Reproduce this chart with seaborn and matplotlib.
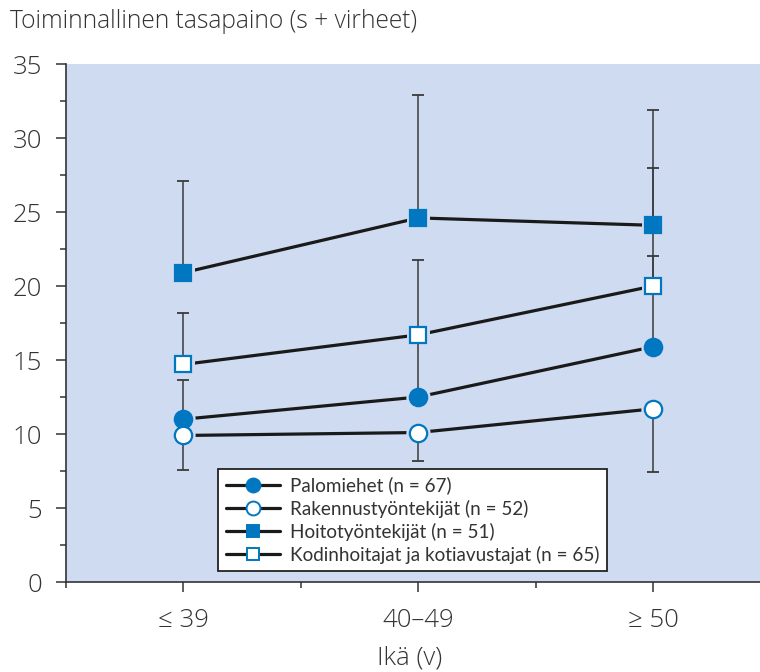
import matplotlib
matplotlib.use("Agg")
import matplotlib.pyplot as plt
from matplotlib.lines import Line2D
from matplotlib.ticker import MultipleLocator, FixedLocator
import numpy as np
import pandas as pd
import seaborn as sns

# Age groups on the x axis
ages = ["≤ 39", "40–49", "≥ 50"]

# Group means (s)
palomiehet = [11.0, 12.5, 15.9]
rakennus = [9.9, 10.1, 11.7]
hoito = [20.9, 24.6, 24.1]
kodinhoito = [14.7, 16.7, 20.0]

# One-sided error bars (upper / lower length)
palomiehet_up = [2.65, 4.0, 6.1]
palomiehet_down = [0.0, 0.0, 0.0]
rakennus_up = [0.0, 0.0, 0.0]
rakennus_down = [2.3, 1.9, 4.3]
hoito_up = [6.2, 8.3, 7.8]
hoito_down = [0.0, 0.0, 0.0]
kodinhoito_up = [3.45, 5.05, 8.0]
kodinhoito_down = [0.0, 0.0, 0.0]

labels = [
    "Palomiehet (n = 67)",
    "Rakennustyöntekijät (n = 52)",
    "Hoitotyöntekijät (n = 51)",
    "Kodinhoitajat ja kotiavustajat (n = 65)",
]

BLUE = "#0077C0"
BG = "#CFDBF0"
INK = "#333333"
LINE = "#1a1a1a"

sns.set_theme(style="white")
plt.rcParams["font.family"] = ["Open Sans", "DejaVu Sans"]
plt.rcParams["font.weight"] = "light"

series = [
    dict(y=palomiehet, up=palomiehet_up, down=palomiehet_down, marker="o", filled=True, ms=12.5),
    dict(y=rakennus, up=rakennus_up, down=rakennus_down, marker="o", filled=False, ms=12.5),
    dict(y=hoito, up=hoito_up, down=hoito_down, marker="s", filled=True, ms=11.0),
    dict(y=kodinhoito, up=kodinhoito_up, down=kodinhoito_down, marker="s", filled=False, ms=11.0),
]

frames = []
for lab, s in zip(labels, series):
    frames.append(pd.DataFrame({"x": np.arange(len(ages)), "y": s["y"], "ryhmä": lab}))
df = pd.concat(frames, ignore_index=True)

fig = plt.figure(figsize=(7.6, 6.72), dpi=100)
ax = fig.add_axes([66 / 760, 90 / 672, 694 / 760, 518 / 672])
ax.set_facecolor(BG)

# Connecting lines
sns.lineplot(data=df, x="x", y="y", hue="ryhmä", palette=[LINE] * 4,
             linewidth=2.3, legend=False, ax=ax, zorder=2)

x = np.arange(len(ages))
# Background halos leave a small gap between lines and markers
for s in series:
    ax.plot(x, s["y"], linestyle="none", marker=s["marker"], ms=s["ms"],
            mfc=BG, mec=BG, mew=5, zorder=3)

# Error bars
for s in series:
    ax.errorbar(x, s["y"], yerr=[s["down"], s["up"]], fmt="none",
                ecolor="#3a3a3a", elinewidth=1.1, capsize=4.5, capthick=1.3, zorder=4)

# Markers
for s in series:
    ax.plot(x, s["y"], linestyle="none", marker=s["marker"], ms=s["ms"],
            mfc=BLUE if s["filled"] else "white", mec=BLUE, mew=1.6, zorder=5)

ax.set_xlim(-0.5, 2.455)
ax.set_ylim(0, 35)
ax.xaxis.set_major_locator(FixedLocator(x))
ax.set_xticklabels(ages)
ax.xaxis.set_minor_locator(FixedLocator([-0.5, 0.5, 1.5]))
ax.yaxis.set_major_locator(MultipleLocator(5))
ax.yaxis.set_minor_locator(MultipleLocator(2.5))

for side in ["top", "right"]:
    ax.spines[side].set_visible(False)
for side in ["left", "bottom"]:
    ax.spines[side].set_color(INK)
    ax.spines[side].set_linewidth(1.2)

ax.tick_params(axis="both", which="major", direction="out", length=7.5, width=1.1,
               color=INK, labelcolor=INK, labelsize=18.5, pad=10, left=True, bottom=True)
ax.tick_params(axis="both", which="minor", direction="out", length=4.5, width=1.1,
               color=INK, left=True, bottom=True)
ax.tick_params(axis="x", which="major", pad=11)
ax.set_xlabel("")
ax.set_ylabel("")

fig.text(10 / 760, 1 - 22 / 672, "Toiminnallinen tasapaino (s + virheet)",
         fontsize=17.7, color=INK, va="center", ha="left")
fig.text(410 / 760, 1 - 658 / 672, "Ikä (v)", fontsize=18.5, color=INK,
         va="center", ha="center")

handles = [
    Line2D([0], [0], color=LINE, lw=2.3, marker=s["marker"], ms=s["ms"] * 0.8,
           mfc=BLUE if s["filled"] else "white", mec=BLUE, mew=1.4)
    for s in series
]
leg = ax.legend(handles, labels, loc="lower left", bbox_to_anchor=(0.219, 0.021),
                borderaxespad=0, frameon=True, fancybox=False, framealpha=1,
                edgecolor="#222222", facecolor="white", handlelength=2.9,
                handletextpad=0.5, labelspacing=0.26, borderpad=0.4,
                prop={"family": ["Lato", "Open Sans", "DejaVu Sans"], "size": 13.6,
                      "weight": "normal"})
leg.get_frame().set_linewidth(1.3)
for t in leg.get_texts():
    t.set_color(INK)

fig.savefig("out.png", dpi=100, facecolor="white")
